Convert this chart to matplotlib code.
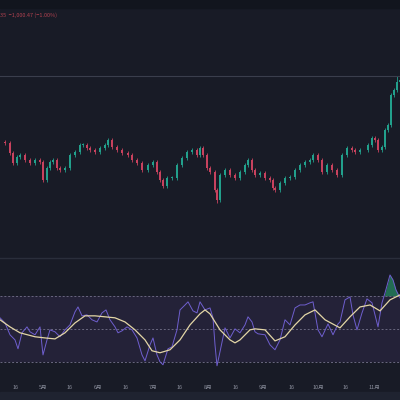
import matplotlib.pyplot as plt
from matplotlib.patches import Rectangle

plt.rcParams['font.family'] = ['Noto Sans CJK SC', 'DejaVu Sans']

BG = '#181b26'
UP = '#22a08c'
DOWN = '#c8425e'

# price trace (x in chart units 0..400, close price)
price_x = [0, 5, 10, 13, 17, 20, 25, 30, 35, 40, 43, 47, 50, 53, 57, 60, 65, 70, 75, 80,
           83, 87, 90, 95, 100, 105, 108, 112, 117, 122, 128, 132, 137, 142, 148, 153, 157, 160, 163, 167,
           172, 177, 182, 187, 192, 197, 200, 203, 207, 210, 215, 217, 220, 225, 230, 235, 240, 245, 248, 252,
           255, 260, 265, 270, 273, 275, 280, 285, 290, 295, 300, 305, 310, 313, 318, 322, 327, 332, 337, 342,
           347, 352, 355, 360, 368, 372, 375, 378, 382, 385, 388, 391, 394, 397, 400]
price_close = [158, 157, 147, 137, 143, 145, 140, 137, 140, 138, 120, 132, 138, 140, 132, 130, 132, 145, 148, 155,
               155, 152, 150, 148, 152, 155, 160, 153, 150, 147, 145, 140, 137, 130, 135, 138, 128, 120, 114, 122,
               122, 135, 142, 148, 150, 145, 152, 145, 132, 128, 110, 100, 125, 130, 125, 122, 128, 135, 140, 130,
               125, 127, 122, 120, 112, 110, 117, 122, 123, 130, 135, 138, 140, 145, 140, 128, 135, 130, 125, 145,
               152, 150, 148, 150, 155, 162, 160, 150, 153, 170, 175, 205, 210, 218, 220]
wick_low = {51: 97}
wick_high = {93: 224}

# RSI and its moving average
rsi_x = [0, 5, 10, 15, 18, 22, 27, 30, 35, 40, 43, 47, 50, 55, 60, 65, 70, 75, 78, 82,
         87, 92, 97, 102, 106, 110, 115, 118, 122, 127, 132, 137, 142, 145, 150, 153, 157, 160, 163, 168,
         172, 177, 180, 185, 188, 193, 197, 200, 205, 210, 213, 215, 217, 220, 225, 230, 235, 240, 245, 248,
         252, 255, 258, 265, 270, 275, 280, 285, 290, 295, 300, 305, 310, 313, 318, 322, 328, 333, 338, 340,
         345, 350, 353, 357, 362, 367, 372, 378, 382, 385, 390, 393, 396, 400]
rsi = [56.7, 53.6, 46.4, 43.3, 37.9, 47.6, 51.2, 48.2, 46.4, 51.2, 34.2, 43.3, 49.4, 48.2, 45.2, 49.4, 52.4, 60.3, 63.3, 57.9,
       58.5, 55.5, 54.2, 59.7, 61.5, 55.5, 51.2, 47.6, 48.8, 51.2, 49.4, 44.5, 34.2, 30.6, 40.3, 44.5, 34.2, 30.0, 28.2, 37.9,
       39.1, 49.4, 61.5, 64.5, 66.4, 60.9, 59.7, 66.4, 61.5, 62.7, 56.7, 40.3, 27.6, 36.1, 50.6, 44.5, 50.0, 47.6, 52.4, 57.3,
       54.2, 48.2, 47.0, 46.4, 40.3, 37.3, 43.3, 55.5, 52.4, 62.7, 64.5, 64.5, 65.8, 66.4, 49.4, 45.2, 53.0, 46.4, 53.0, 54.2,
       67.6, 69.4, 58.5, 49.4, 59.7, 68.2, 65.8, 51.2, 65.8, 71.8, 82.7, 79.7, 73.6, 68.8]
ma_x = [0, 10, 20, 35, 45, 55, 65, 75, 85, 95, 105, 115, 125, 135, 145, 152, 160, 170, 180, 190,
        200, 205, 210, 220, 230, 235, 240, 250, 255, 265, 275, 285, 295, 305, 315, 325, 340, 350, 360, 370,
        380, 390, 400]
rsi_ma = [55.5, 51.2, 47.6, 45.2, 44.5, 43.9, 47.6, 53.6, 57.9, 57.9, 57.3, 56.7, 54.2, 49.4, 43.3, 36.7, 35.5, 37.3, 43.3, 52.4,
          59.1, 61.5, 59.1, 49.4, 43.3, 41.5, 43.3, 49.4, 50.0, 49.4, 42.7, 45.2, 52.4, 58.5, 61.5, 55.5, 50.6, 57.3, 63.3, 64.5,
          60.9, 67.6, 70.6]

tick_pos = [16, 43, 70, 98, 126, 153, 180, 208, 236, 263, 292, 318, 346, 374]
tick_labels = ['16', '5月', '16', '6月', '16', '7月', '16', '8月', '16', '9月', '16', '10月', '16', '11月']

fig = plt.figure(figsize=(4, 4), dpi=100, facecolor=BG)
fig.patches.append(Rectangle((0, 0.98), 1, 0.02, transform=fig.transFigure, color='#12151e'))
fig.patches.append(Rectangle((0, 0), 1, 0.02, transform=fig.transFigure, color='#1f2330'))

ax = fig.add_axes([0, 0.355, 1, 0.62], facecolor=BG)
ax.set_xlim(0, 400)
ax.set_ylim(42, 290)
for i in range(1, len(price_x)):
    o, c = price_close[i - 1], price_close[i]
    col = UP if c >= o else DOWN
    lo = wick_low.get(i, min(o, c) - 2)
    hi = wick_high.get(i, max(o, c) + 2)
    ax.vlines(price_x[i], lo, hi, color=col, lw=0.6)
    ax.bar(price_x[i], max(abs(c - o), 0.8), bottom=min(o, c), width=2.2, color=col, lw=0)
ax.axhline(224, color='#3a3e4c', lw=0.8)
ax.axis('off')
fig.text(0.0, 0.962, '35  −1,000.47 (−1.00%)', color='#b0414f', fontsize=4, va='center')

fig.add_artist(plt.Line2D([0, 1], [0.355, 0.355], color='#2a2e3b', lw=1))

ax2 = fig.add_axes([0, 0.0625, 1, 0.2925], facecolor=BG)
ax2.set_xlim(0, 400)
ax2.set_ylim(22, 93)
ax2.axhspan(30, 70, color='#7e57c2', alpha=0.12, lw=0)
for lvl in (30, 50, 70):
    ax2.axhline(lvl, color='#6a6880', lw=0.7, ls=(0, (2, 2)))
ax2.plot(rsi_x, rsi, color='#6f5fcf', lw=0.7)
ax2.fill_between(rsi_x, 70, rsi, where=[v > 70 for v in rsi], color='#2aa371', alpha=0.6, interpolate=True, lw=0)
ax2.plot(ma_x, rsi_ma, color='#e3d6a6', lw=0.9)
ax2.set_xticks(tick_pos)
ax2.set_xticklabels(tick_labels, fontsize=4, color='#8a8e9c')
ax2.tick_params(length=0, pad=7)
ax2.set_yticks([])
for s in ax2.spines.values():
    s.set_visible(False)

fig.savefig('out.png', dpi=100, facecolor=BG)
